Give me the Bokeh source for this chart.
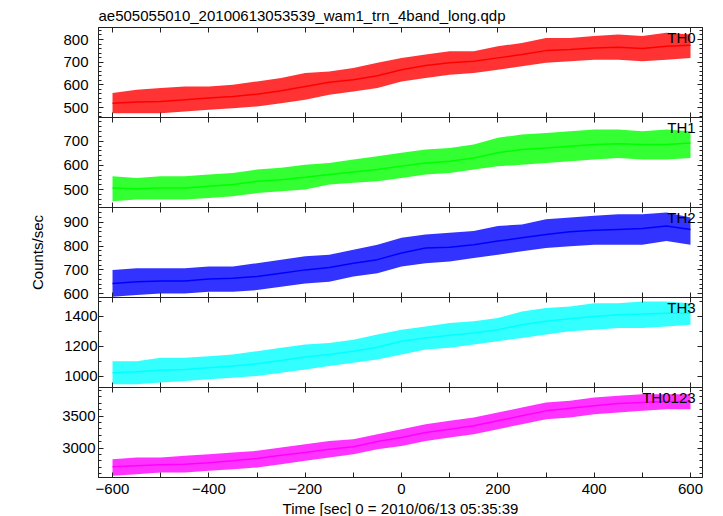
from bokeh.plotting import figure
from bokeh.layouts import column
from bokeh.models import (ColumnDataSource, Range1d, LinearAxis, SingleIntervalTicker,
                          FixedTicker, Label, CustomLabelingPolicy)
from bokeh.embed import file_html
from bokeh.resources import INLINE

FONT = "Liberation Sans"

title_text = "ae505055010_20100613053539_wam1_trn_4band_long.qdp"
x_label = "Time [sec] 0 = 2010/06/13 05:35:39"
y_label = "Counts/sec"

time = [-600, -550, -500, -450, -400, -350, -300, -250, -200, -150, -100, -50, 0,
        50, 100, 150, 200, 250, 300, 350, 400, 450, 500, 550, 600]

th0_mid = [519, 524, 527, 534, 542, 549, 559, 574, 593, 611, 623, 640, 667, 685, 697, 704, 719, 734, 751, 756, 763, 766, 760, 770, 775]
th0_hi = [564, 578, 586, 593, 593, 601, 615, 630, 652, 659, 674, 697, 719, 734, 748, 748, 770, 785, 807, 807, 815, 822, 815, 830, 822]
th0_lo = [475, 475, 475, 482, 490, 497, 505, 519, 534, 556, 571, 586, 615, 630, 645, 652, 667, 682, 697, 704, 711, 711, 704, 711, 719]

th1_mid = [507, 504, 507, 507, 514, 521, 534, 541, 551, 562, 573, 583, 597, 610, 617, 631, 652, 666, 672, 679, 686, 689, 686, 686, 693]
th1_hi = [555, 548, 555, 555, 562, 569, 583, 590, 603, 610, 624, 638, 652, 666, 672, 686, 714, 728, 734, 741, 748, 748, 741, 748, 741]
th1_lo = [452, 459, 459, 459, 465, 472, 486, 493, 500, 521, 528, 534, 548, 562, 569, 583, 596, 603, 610, 617, 624, 631, 624, 624, 631]

th2_mid = [643, 650, 653, 653, 662, 665, 672, 686, 700, 710, 728, 743, 771, 792, 795, 806, 821, 835, 849, 860, 866, 870, 874, 884, 870]
th2_hi = [700, 707, 707, 707, 714, 714, 728, 743, 757, 764, 785, 806, 835, 849, 856, 863, 884, 891, 913, 920, 927, 934, 934, 941, 920]
th2_lo = [587, 594, 601, 601, 608, 608, 615, 629, 643, 650, 672, 686, 714, 728, 735, 750, 764, 778, 792, 799, 806, 806, 806, 821, 806]

th3_mid = [1022, 1029, 1038, 1044, 1056, 1067, 1082, 1104, 1127, 1144, 1167, 1193, 1233, 1256, 1273, 1289, 1311, 1344, 1367, 1384, 1400, 1411, 1416, 1422, 1422]
th3_hi = [1100, 1100, 1122, 1122, 1133, 1144, 1167, 1189, 1211, 1222, 1244, 1278, 1311, 1333, 1356, 1367, 1389, 1433, 1456, 1467, 1489, 1489, 1500, 1500, 1489]
th3_lo = [944, 944, 956, 967, 978, 989, 1000, 1022, 1044, 1067, 1089, 1111, 1144, 1178, 1189, 1211, 1233, 1256, 1278, 1300, 1311, 1322, 1322, 1333, 1344]

th0123_mid = [2708, 2724, 2740, 2750, 2771, 2802, 2839, 2891, 2932, 2984, 3021, 3104, 3167, 3245, 3297, 3349, 3427, 3505, 3583, 3625, 3661, 3698, 3714, 3729, 3729]
th0123_hi = [2828, 2854, 2854, 2880, 2906, 2932, 2958, 3010, 3062, 3114, 3140, 3219, 3297, 3375, 3427, 3479, 3557, 3635, 3714, 3740, 3792, 3818, 3844, 3844, 3844]
th0123_lo = [2568, 2594, 2620, 2620, 2646, 2672, 2698, 2750, 2802, 2854, 2906, 2984, 3036, 3114, 3167, 3219, 3297, 3375, 3453, 3479, 3531, 3557, 3583, 3609, 3609]

band_names = ["TH0", "TH1", "TH2", "TH3", "TH0123"]
band_colors = ["#ff0000", "#00ff00", "#0000ff", "#00ffff", "#ff00ff"]
band_mid = [th0_mid, th1_mid, th2_mid, th3_mid, th0123_mid]
band_hi = [th0_hi, th1_hi, th2_hi, th3_hi, th0123_hi]
band_lo = [th0_lo, th1_lo, th2_lo, th3_lo, th0123_lo]
y_ranges = [(456, 853), (426, 798), (584, 962), (923, 1527), (2542, 3948)]
y_intervals = [100, 100, 100, 200, 500]
y_minor = [5, 5, 5, 2, 5]
y_standoff = [10, 10, 10, 1, 3]

x_ticks = [-600, -500, -400, -300, -200, -100, 0, 100, 200, 300, 400, 500, 600]
x_tick_labels = {-600: "\u2212600", -500: "", -400: "\u2212400", -300: "", -200: "\u2212200", -100: "",
                 0: "0", 100: "", 200: "200", 300: "", 400: "400", 500: "", 600: "600"}

AXC = "#222222"
OVER = 8
x_range = Range1d(-629.1, 624.9)
no_labels = CustomLabelingPolicy(code="return new Set()")

figs = []
n = len(band_names)
for i in range(n):
    first = i == 0
    last = i == n - 1
    p = figure(frame_width=604, frame_height=90, x_range=x_range,
               y_range=Range1d(*y_ranges[i]), output_backend="svg", toolbar_location=None,
               x_axis_location=None, y_axis_location=None,
               min_border_left=98, min_border_right=5,
               min_border_top=0, min_border_bottom=0 if last else OVER,
               background_fill_color="white", border_fill_color=None)
    if not first:
        p.styles = {"margin-top": f"-{OVER}px"}
    p.grid.grid_line_color = None
    p.outline_line_color = AXC
    p.outline_line_width = 1

    src = ColumnDataSource(dict(t=time, mid=band_mid[i], lo=band_lo[i], hi=band_hi[i]))
    p.varea(x="t", y1="lo", y2="hi", source=src, fill_color=band_colors[i], fill_alpha=0.8)
    p.line(x="t", y="mid", source=src, line_color=band_colors[i], line_width=1.5)

    yt = SingleIntervalTicker(interval=y_intervals[i], num_minor_ticks=y_minor[i])
    for side in ("left", "right"):
        ax = LinearAxis(ticker=yt, axis_line_color=AXC, major_tick_line_color=AXC,
                        minor_tick_line_color=AXC, major_tick_in=5, major_tick_out=0,
                        minor_tick_in=3, minor_tick_out=0)
        if side == "left":
            ax.major_label_text_font = FONT
            ax.major_label_text_font_size = "15px"
            ax.major_label_text_color = "black"
            ax.major_label_standoff = y_standoff[i]
            if i == 2:
                ax.axis_label = y_label
                ax.axis_label_text_font = FONT
                ax.axis_label_text_font_size = "15px"
                ax.axis_label_text_font_style = "normal"
                ax.axis_label_text_color = "black"
                ax.axis_label_standoff = 14
        else:
            ax.major_label_text_font_size = "0px"
            ax.major_label_standoff = 0
            ax.major_label_policy = no_labels
        p.add_layout(ax, side)

    xt = FixedTicker(ticks=x_ticks, minor_ticks=[])
    for side in ("above", "below"):
        ax = LinearAxis(ticker=xt, axis_line_color=AXC, major_tick_line_color=AXC,
                        major_tick_in=5, major_tick_out=0, minor_tick_in=0, minor_tick_out=0)
        if side == "below" and last:
            ax.major_label_overrides = x_tick_labels
            ax.major_label_text_font = FONT
            ax.major_label_text_font_size = "15px"
            ax.major_label_text_color = "black"
            ax.major_label_standoff = 6
            ax.axis_label = x_label
            ax.axis_label_text_font = FONT
            ax.axis_label_text_font_size = "15px"
            ax.axis_label_text_font_style = "normal"
            ax.axis_label_text_color = "black"
            ax.axis_label_standoff = 3
        else:
            ax.major_label_text_font_size = "0px"
            ax.major_label_standoff = 0
            ax.major_label_policy = no_labels
        p.add_layout(ax, side)

    y0, y1 = y_ranges[i]
    lab = Label(x=610.5, y=y1 - (y1 - y0) * 1.5 / 90, text=band_names[i],
                text_align="right", text_baseline="top", text_font=FONT,
                text_font_size="15px", text_color="black")
    p.add_layout(lab)

    if first:
        p.title.text = title_text
        p.title.text_font = FONT
        p.title.text_font_size = "15px"
        p.title.text_font_style = "normal"
        p.title.text_color = "black"
        p.title.align = "left"
        p.title.standoff = 8
    figs.append(p)

layout = column(*figs, spacing=0)

html = file_html(layout, INLINE)
html = html.replace("<head>", "<head><style>html,body{overflow:hidden;}</style>", 1)
open("out.html", "w").write(html)
